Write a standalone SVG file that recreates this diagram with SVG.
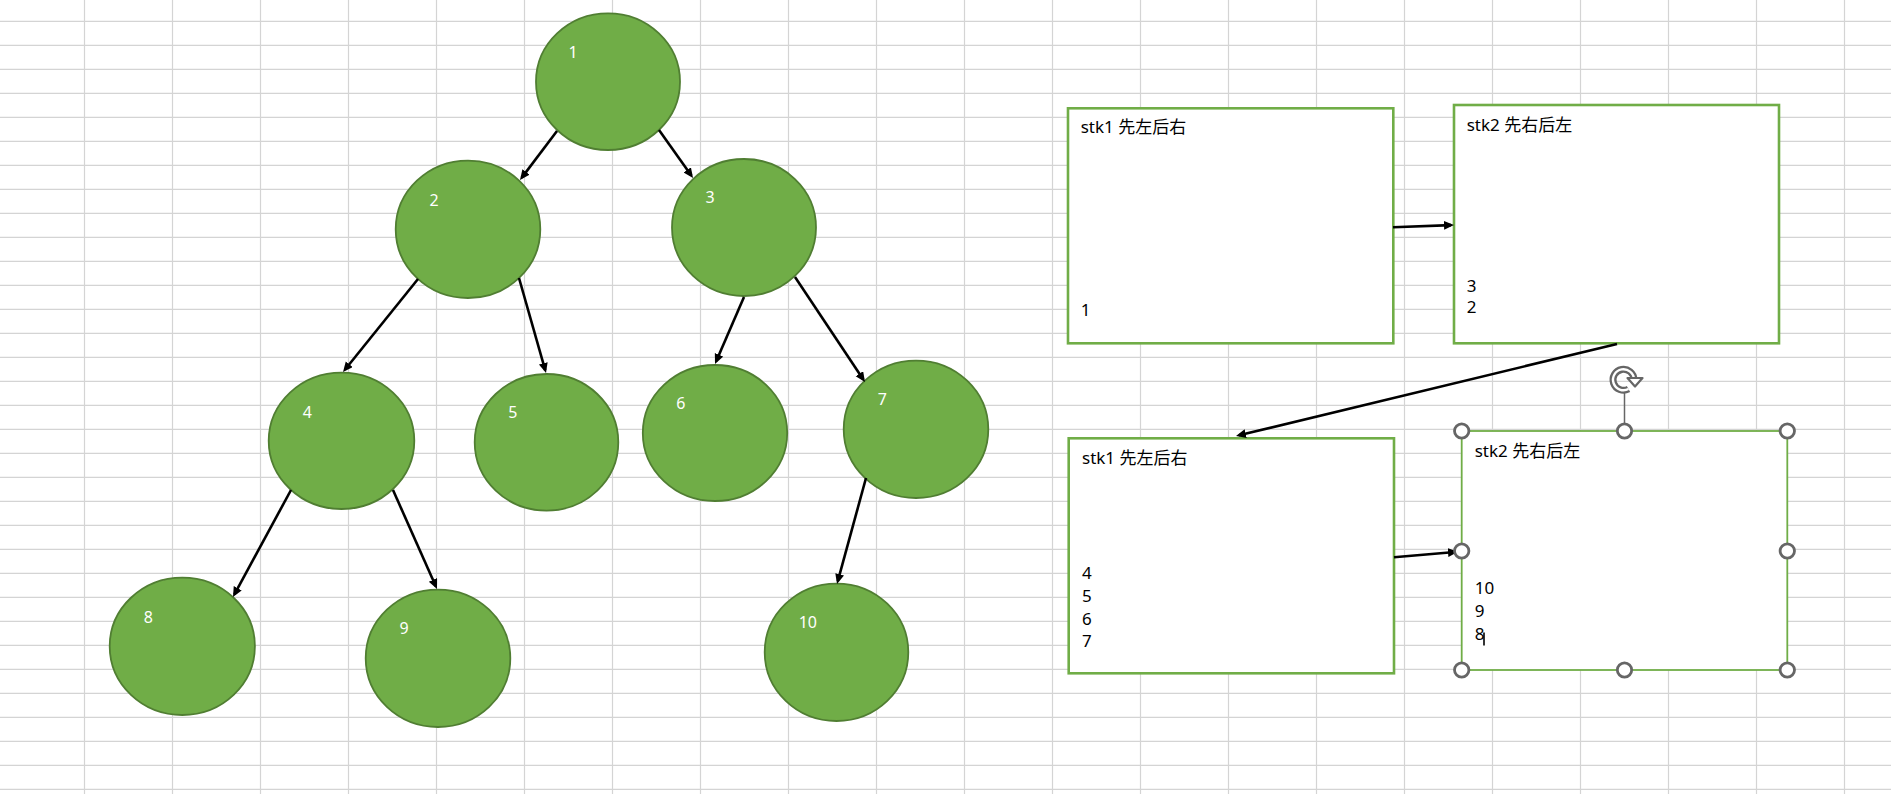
<svg xmlns="http://www.w3.org/2000/svg" width="1891" height="794" viewBox="0 0 1891 794">
<style>
.grid line{stroke:#d4d4d4;stroke-width:1.2}
.node ellipse{fill:#70ad47;stroke:#507e32;stroke-width:1.8}
.nl{fill:#ffffff;font-family:"Noto Sans","Open Sans",sans-serif;font-size:16px}
.edge{stroke:#000;stroke-width:2.6;fill:none;marker-end:url(#arr)}
.box rect{fill:#fff;stroke:#70ad47;stroke-width:2.6}
.bt{fill:#000;font-family:"Noto Sans","Noto Sans CJK SC",sans-serif;font-size:17px}
.hd{fill:#fff;stroke:#666;stroke-width:2.8}
</style>
<defs>
<marker id="arr" markerUnits="userSpaceOnUse" markerWidth="11" markerHeight="10" refX="7" refY="4.5" orient="auto">
<path d="M0,0 L10,4.5 L0,9 z" fill="#000"/>
</marker>
</defs>
<rect x="0" y="0" width="1891" height="794" fill="#ffffff"/>
<g class="grid">
<line x1="84.5" y1="0" x2="84.5" y2="794"/><line x1="172.5" y1="0" x2="172.5" y2="794"/><line x1="260.5" y1="0" x2="260.5" y2="794"/><line x1="348.5" y1="0" x2="348.5" y2="794"/><line x1="436.5" y1="0" x2="436.5" y2="794"/><line x1="524.5" y1="0" x2="524.5" y2="794"/><line x1="612.5" y1="0" x2="612.5" y2="794"/><line x1="700.5" y1="0" x2="700.5" y2="794"/><line x1="788.5" y1="0" x2="788.5" y2="794"/><line x1="876.5" y1="0" x2="876.5" y2="794"/><line x1="964.5" y1="0" x2="964.5" y2="794"/><line x1="1052.5" y1="0" x2="1052.5" y2="794"/><line x1="1140.5" y1="0" x2="1140.5" y2="794"/><line x1="1228.5" y1="0" x2="1228.5" y2="794"/><line x1="1316.5" y1="0" x2="1316.5" y2="794"/><line x1="1404.5" y1="0" x2="1404.5" y2="794"/><line x1="1492.5" y1="0" x2="1492.5" y2="794"/><line x1="1580.5" y1="0" x2="1580.5" y2="794"/><line x1="1668.5" y1="0" x2="1668.5" y2="794"/><line x1="1756.5" y1="0" x2="1756.5" y2="794"/><line x1="1844.5" y1="0" x2="1844.5" y2="794"/>
<line x1="0" y1="21.3" x2="1891" y2="21.3"/><line x1="0" y1="45.3" x2="1891" y2="45.3"/><line x1="0" y1="69.3" x2="1891" y2="69.3"/><line x1="0" y1="93.3" x2="1891" y2="93.3"/><line x1="0" y1="117.3" x2="1891" y2="117.3"/><line x1="0" y1="141.3" x2="1891" y2="141.3"/><line x1="0" y1="165.3" x2="1891" y2="165.3"/><line x1="0" y1="189.3" x2="1891" y2="189.3"/><line x1="0" y1="213.3" x2="1891" y2="213.3"/><line x1="0" y1="237.3" x2="1891" y2="237.3"/><line x1="0" y1="261.3" x2="1891" y2="261.3"/><line x1="0" y1="285.3" x2="1891" y2="285.3"/><line x1="0" y1="309.3" x2="1891" y2="309.3"/><line x1="0" y1="333.3" x2="1891" y2="333.3"/><line x1="0" y1="357.3" x2="1891" y2="357.3"/><line x1="0" y1="381.3" x2="1891" y2="381.3"/><line x1="0" y1="405.3" x2="1891" y2="405.3"/><line x1="0" y1="429.3" x2="1891" y2="429.3"/><line x1="0" y1="453.3" x2="1891" y2="453.3"/><line x1="0" y1="477.3" x2="1891" y2="477.3"/><line x1="0" y1="501.3" x2="1891" y2="501.3"/><line x1="0" y1="525.3" x2="1891" y2="525.3"/><line x1="0" y1="549.3" x2="1891" y2="549.3"/><line x1="0" y1="573.3" x2="1891" y2="573.3"/><line x1="0" y1="597.3" x2="1891" y2="597.3"/><line x1="0" y1="621.3" x2="1891" y2="621.3"/><line x1="0" y1="645.3" x2="1891" y2="645.3"/><line x1="0" y1="669.3" x2="1891" y2="669.3"/><line x1="0" y1="693.3" x2="1891" y2="693.3"/><line x1="0" y1="717.3" x2="1891" y2="717.3"/><line x1="0" y1="741.3" x2="1891" y2="741.3"/><line x1="0" y1="765.3" x2="1891" y2="765.3"/><line x1="0" y1="789.3" x2="1891" y2="789.3"/>
</g>
<g id="n1" class="node"><ellipse cx="608" cy="81.7" rx="72" ry="68.3"/><text class="nl" x="568.5" y="58">1</text></g>
<g id="n2" class="node"><ellipse cx="468" cy="229.3" rx="72.3" ry="68.7"/><text class="nl" x="429.5" y="206">2</text></g>
<g id="n3" class="node"><ellipse cx="744" cy="227.5" rx="72" ry="68.5"/><text class="nl" x="705.5" y="203">3</text></g>
<g id="n4" class="node"><ellipse cx="341.5" cy="440.8" rx="72.8" ry="68.2"/><text class="nl" x="302.8" y="417.5">4</text></g>
<g id="n5" class="node"><ellipse cx="546.5" cy="442.3" rx="71.8" ry="68.3"/><text class="nl" x="508.2" y="418">5</text></g>
<g id="n6" class="node"><ellipse cx="715" cy="433" rx="72.2" ry="68"/><text class="nl" x="676.2" y="409">6</text></g>
<g id="n7" class="node"><ellipse cx="916" cy="429.3" rx="72.3" ry="68.7"/><text class="nl" x="877.8" y="405">7</text></g>
<g id="n8" class="node"><ellipse cx="182.3" cy="646.3" rx="72.6" ry="68.7"/><text class="nl" x="143.8" y="622.5">8</text></g>
<g id="n9" class="node"><ellipse cx="438" cy="658.3" rx="72.3" ry="68.7"/><text class="nl" x="399.5" y="634">9</text></g>
<g id="n10" class="node"><ellipse cx="836.5" cy="652.3" rx="71.8" ry="68.7"/><text class="nl" x="798.7" y="628">10</text></g>
<g id="boxA" class="box"><rect x="1068" y="108.3" width="325.3" height="235"/><text class="bt" x="1080.7" y="133">stk1 先左后右</text><text class="bt" x="1080.7" y="316">1</text></g>
<g id="boxB" class="box"><rect x="1454" y="105" width="325" height="238.3"/><text class="bt" x="1466.7" y="131">stk2 先右后左</text><text class="bt" x="1466.7" y="291.7">3</text><text class="bt" x="1466.7" y="313.3">2</text></g>
<g id="boxC" class="box"><rect x="1068.7" y="438.3" width="325.3" height="235"/><text class="bt" x="1082" y="464">stk1 先左后右</text><text class="bt" x="1082" y="579">4</text><text class="bt" x="1082" y="601.7">5</text><text class="bt" x="1082" y="624.5">6</text><text class="bt" x="1082" y="646.7">7</text></g>
<g id="boxD" class="box"><rect x="1461.7" y="431" width="325.6" height="239" style="stroke-width:1.8"/><text class="bt" x="1474.7" y="456.5">stk2 先右后左</text><text class="bt" x="1474.7" y="594.3">10</text><text class="bt" x="1474.7" y="617.3">9</text><text class="bt" x="1474.7" y="640">8</text><line x1="1484" y1="632.5" x2="1484" y2="645.5" stroke="#000" stroke-width="1.6"/></g>
<g id="connectors">
<line class="edge" x1="557" y1="131" x2="521.8" y2="177.6"/>
<line class="edge" x1="659" y1="130" x2="691.3" y2="175.6"/>
<line class="edge" x1="418" y1="279" x2="344.9" y2="369.7"/>
<line class="edge" x1="519" y1="278" x2="545.2" y2="370.1"/>
<line class="edge" x1="744" y1="297" x2="716.2" y2="361.2"/>
<line class="edge" x1="795" y1="277" x2="863.3" y2="379.5"/>
<line class="edge" x1="291" y1="490" x2="234.4" y2="594.4"/>
<line class="edge" x1="393" y1="490" x2="435.8" y2="586.3"/>
<line class="edge" x1="866" y1="478" x2="837.8" y2="581.1"/>
<line class="edge" x1="1393" y1="227.3" x2="1451" y2="225.1"/>
<line class="edge" x1="1617" y1="344" x2="1238.9" y2="435.3"/>
<line class="edge" x1="1394" y1="557.3" x2="1455" y2="552"/>
</g>
<g id="selection">
<line x1="1624.5" y1="393" x2="1624.5" y2="424" stroke="#666" stroke-width="1.5"/>
<path d="M1628.5,389 A10.5,10.5 0 1 1 1634,379.5" fill="none" stroke="#666" stroke-width="7"/>
<path d="M1628.5,389 A10.5,10.5 0 1 1 1634,379.5" fill="none" stroke="#fff" stroke-width="2.4"/>
<path d="M1627.5,378 L1642.5,378 L1635,386.5 z" fill="#fff" stroke="#666" stroke-width="2.2" stroke-linejoin="round"/>
<circle class="hd" cx="1461.7" cy="431" r="7.2"/><circle class="hd" cx="1624.5" cy="431" r="7.2"/><circle class="hd" cx="1787.3" cy="431" r="7.2"/>
<circle class="hd" cx="1461.7" cy="551" r="7.2"/><circle class="hd" cx="1787.3" cy="551" r="7.2"/>
<circle class="hd" cx="1461.7" cy="670" r="7.2"/><circle class="hd" cx="1624.5" cy="670" r="7.2"/><circle class="hd" cx="1787.3" cy="670" r="7.2"/>
</g>
</svg>
